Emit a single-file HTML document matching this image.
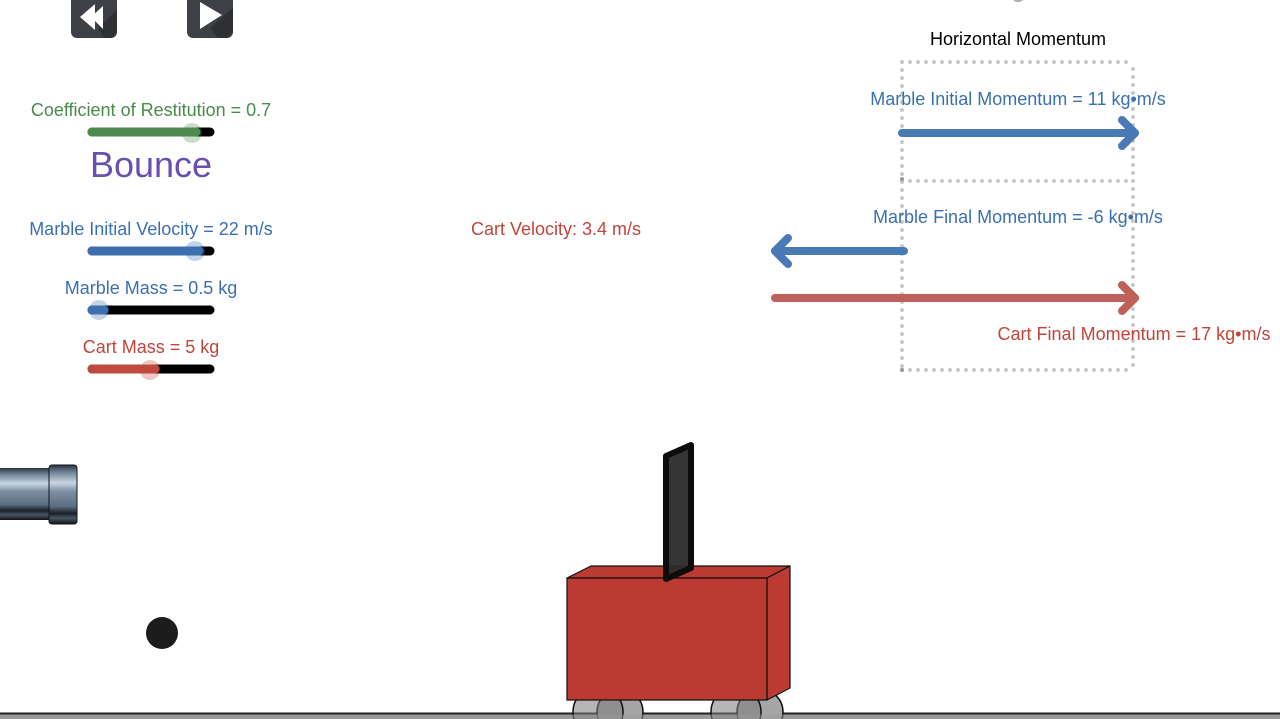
<!DOCTYPE html>
<html><head><meta charset="utf-8"><style>
html,body{margin:0;padding:0;background:#fff;}
svg{display:block;}
text{font-family:"Liberation Sans",Arial,sans-serif;}
</style></head><body>
<svg width="1280" height="719" viewBox="0 0 1280 719" xmlns="http://www.w3.org/2000/svg">
<rect width="1280" height="719" fill="#fff"/>
<!-- top buttons -->
<rect x="71" y="-10" width="46" height="48" rx="6" fill="#3d4045"/>
<polygon points="98,28 117,10 117,32 111,38 104,38" fill="#2e3034"/>
<polygon points="80,17 95,4 95,30" fill="#fff"/>
<polygon points="91,17 103,6 103,29" fill="#fff"/>
<rect x="187" y="-10" width="46" height="48" rx="6" fill="#3d4045"/>
<polygon points="210,28 233,8 233,32 227,38 218,38" fill="#2e3034"/>
<polygon points="200,2 222,15 200,29" fill="#fff"/>
<!-- top gray arc -->
<circle cx="1018" cy="-5" r="7" fill="#aaa"/>

<!-- sliders -->
<text x="151" y="116" font-size="18" fill="#4a8a4a" text-anchor="middle">Coefficient of Restitution = 0.7</text>
<line x1="92" y1="132" x2="210" y2="132" stroke="#000" stroke-width="9" stroke-linecap="round"/>
<line x1="92" y1="132" x2="196" y2="132" stroke="#4e8a4e" stroke-width="9" stroke-linecap="round"/>
<circle cx="192" cy="133" r="10" fill="#4e8a4e" fill-opacity="0.3"/>
<text x="151" y="177" font-size="36" fill="#6a4fb0" text-anchor="middle">Bounce</text>

<text x="151" y="235" font-size="18" fill="#3a70b0" text-anchor="middle">Marble Initial Velocity = 22 m/s</text>
<line x1="92" y1="251" x2="210" y2="251" stroke="#000" stroke-width="9" stroke-linecap="round"/>
<line x1="92" y1="251" x2="199" y2="251" stroke="#3d6fae" stroke-width="9" stroke-linecap="round"/>
<circle cx="195" cy="251" r="10" fill="#3d6fae" fill-opacity="0.3"/>

<text x="151" y="294" font-size="18" fill="#3a70b0" text-anchor="middle">Marble Mass = 0.5 kg</text>
<line x1="92" y1="310" x2="210" y2="310" stroke="#000" stroke-width="9" stroke-linecap="round"/>
<line x1="92" y1="310" x2="104" y2="310" stroke="#3d6fae" stroke-width="9" stroke-linecap="round"/>
<circle cx="99" cy="310" r="10" fill="#3d6fae" fill-opacity="0.3"/>

<text x="151" y="353" font-size="18" fill="#c0453a" text-anchor="middle">Cart Mass = 5 kg</text>
<line x1="92" y1="369" x2="210" y2="369" stroke="#000" stroke-width="9" stroke-linecap="round"/>
<line x1="92" y1="369" x2="155" y2="369" stroke="#bf4a40" stroke-width="9" stroke-linecap="round"/>
<circle cx="150" cy="370" r="10" fill="#bf4a40" fill-opacity="0.3"/>

<text x="556" y="235" font-size="18" fill="#c0453a" text-anchor="middle">Cart Velocity: 3.4 m/s</text>

<!-- momentum panel -->
<text x="1018" y="45" font-size="18" fill="#000" text-anchor="middle">Horizontal Momentum</text>
<g stroke="#c8c8c8" stroke-width="4" stroke-linecap="round" stroke-dasharray="0 8" fill="none">
<line x1="902" y1="62" x2="1130" y2="62"/>
<line x1="902" y1="181" x2="1130" y2="181"/>
<line x1="902" y1="370" x2="1133" y2="370"/>
<line x1="902" y1="62" x2="902" y2="370"/>
<line x1="1133" y1="69" x2="1133" y2="370"/>
</g>
<circle cx="902" cy="179" r="2" fill="#999"/>
<circle cx="902" cy="370" r="2" fill="#999"/>

<text x="1018" y="105" font-size="18" fill="#3a70b0" text-anchor="middle">Marble Initial Momentum = 11 kg•m/s</text>
<g stroke="#4a7ab5" stroke-width="8" stroke-linecap="round" stroke-linejoin="round" fill="none">
<line x1="902" y1="133" x2="1135" y2="133"/>
<polyline points="1122,120 1135,133 1122,146"/>
</g>
<text x="1018" y="223" font-size="18" fill="#3a70b0" text-anchor="middle">Marble Final Momentum = -6 kg•m/s</text>
<g stroke="#4a7ab5" stroke-width="8" stroke-linecap="round" stroke-linejoin="round" fill="none">
<line x1="904" y1="251" x2="775" y2="251"/>
<polyline points="788,238 775,251 788,264"/>
</g>
<g stroke="#c0605a" stroke-width="8" stroke-linecap="round" stroke-linejoin="round" fill="none">
<line x1="775" y1="298" x2="1135" y2="298"/>
<polyline points="1122,285 1135,298 1122,311"/>
</g>
<text x="1134" y="340" font-size="18" fill="#c0453a" text-anchor="middle">Cart Final Momentum = 17 kg•m/s</text>

<!-- cannon -->
<defs>
<linearGradient id="barrel" x1="0" y1="0" x2="0" y2="1">
<stop offset="0" stop-color="#2a3440"/>
<stop offset="0.12" stop-color="#6f8296"/>
<stop offset="0.3" stop-color="#c9d6e2"/>
<stop offset="0.45" stop-color="#7d8ea2"/>
<stop offset="0.7" stop-color="#5d6e82"/>
<stop offset="0.82" stop-color="#1a2028"/>
<stop offset="0.9" stop-color="#4a5566"/>
<stop offset="1" stop-color="#101418"/>
</linearGradient>
</defs>
<rect x="0" y="468" width="52" height="52" fill="url(#barrel)"/>
<rect x="49" y="465" width="28" height="59" rx="3" fill="url(#barrel)" stroke="#10151a" stroke-width="1"/>

<!-- marble -->
<circle cx="162" cy="633" r="16" fill="#1c1c1c"/>

<!-- ground -->
<rect x="0" y="713" width="1280" height="6" fill="#9a9a9a"/>
<line x1="0" y1="713.5" x2="1280" y2="713.5" stroke="#222" stroke-width="2"/>

<!-- wheels -->
<g stroke="#111" stroke-width="1.5">
<circle cx="620" cy="712" r="23" fill="#a6a6a6"/>
<circle cx="598" cy="712" r="25" fill="#7a7a7a" fill-opacity="0.55"/>
<circle cx="760" cy="712" r="23" fill="#a6a6a6"/>
<circle cx="736" cy="712" r="25" fill="#7a7a7a" fill-opacity="0.55"/>
</g>
<rect x="560" y="714.5" width="240" height="5" fill="#9a9a9a" fill-opacity="0.5"/>

<!-- cart -->
<g stroke="#111" stroke-width="1.2" stroke-linejoin="round">
<polygon points="567,578 591,566 790,566 767,578" fill="#bb3a32"/>
<polygon points="767,578 790,566 790,688 767,700" fill="#bb3a32"/>
<rect x="567" y="578" width="200" height="122" fill="#bb3a32"/>
</g>
<!-- flag -->
<polygon points="666,456 691,445 691,568 666,579" fill="#2a2a2a" fill-opacity="0.95" stroke="#0c0c0c" stroke-width="6" stroke-linejoin="round"/>
</svg>
</body></html>
